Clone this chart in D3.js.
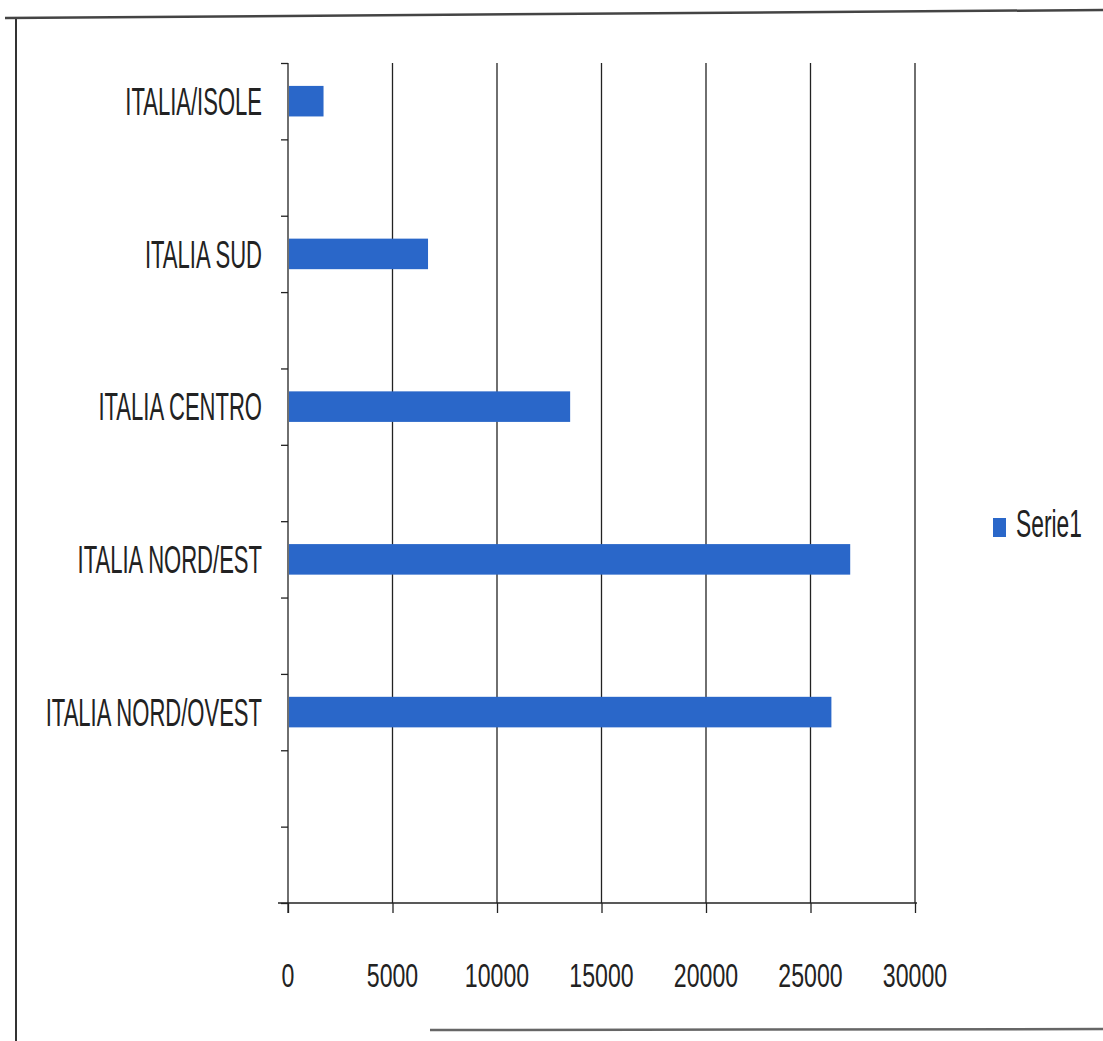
<!DOCTYPE html>
<html>
<head>
<meta charset="utf-8">
<script src="https://cdn.jsdelivr.net/npm/d3@7"></script>
<style>
  html, body { margin: 0; padding: 0; background: #ffffff; }
  svg { display: block; }
</style>
</head>
<body>
<script>
// ---- data ----
const categories = ["ITALIA/ISOLE", "ITALIA SUD", "ITALIA CENTRO", "ITALIA NORD/EST", "ITALIA NORD/OVEST"];
const values = [1700, 6700, 13500, 26900, 26000];
const xTicks = [0, 5000, 10000, 15000, 20000, 25000, 30000];
const seriesName = "Serie1";

// ---- layout ----
const W = 1103, H = 1041;
const svg = d3.select("body").append("svg").attr("width", W).attr("height", H);

const plot = { left: 288, right: 915, top: 63, bottom: 903 };

// category slots: each category followed by an empty slot, plus one trailing empty slot
const slots = [];
categories.forEach((c, i) => { slots.push("c" + i); slots.push("e" + i); });
slots.push("end");

const x = d3.scaleLinear().domain([0, 30000]).range([plot.left, plot.right]);
const y = d3.scaleBand().domain(slots).range([plot.top, plot.bottom]).padding(0);
const edge = d3.scaleLinear().domain([0, slots.length]).range([plot.top, plot.bottom]);

// frame (scanned page border)
svg.append("line").attr("x1", 16).attr("y1", 18).attr("x2", 16).attr("y2", H)
  .attr("stroke", "#333").attr("stroke-width", 2);
svg.append("line").attr("x1", 5).attr("y1", 18).attr("x2", W).attr("y2", 10)
  .attr("stroke", "#444").attr("stroke-width", 2.5);
svg.append("line").attr("x1", 430).attr("y1", 1030).attr("x2", W).attr("y2", 1029)
  .attr("stroke", "#666").attr("stroke-width", 2.5);

// vertical gridlines
svg.append("g").selectAll("line").data(xTicks.slice(1)).join("line")
  .attr("x1", d => x(d)).attr("x2", d => x(d))
  .attr("y1", plot.top).attr("y2", plot.bottom)
  .attr("stroke", "#222").attr("stroke-width", 1.3);

// bottom axis
const xAxis = svg.append("g").attr("transform", `translate(0,${plot.bottom})`)
  .call(d3.axisBottom(x).tickValues(xTicks).tickSize(10).tickFormat(""));
xAxis.select(".domain").attr("stroke", "#222").attr("stroke-width", 1.3)
  .attr("d", `M${plot.left - 10},0H${plot.right + 2}`);
xAxis.selectAll(".tick line").attr("stroke", "#222").attr("stroke-width", 1.3);

// left axis (ticks at slot edges)
const yAxis = svg.append("g").attr("transform", `translate(${plot.left},0)`)
  .call(d3.axisLeft(edge).tickValues(d3.range(slots.length + 1)).tickSize(7).tickFormat(""));
yAxis.select(".domain").attr("stroke", "#222").attr("stroke-width", 1.3)
  .attr("d", `M0,${plot.top}V${plot.bottom + 10}`);
yAxis.selectAll(".tick line").attr("stroke", "#222").attr("stroke-width", 1.3);

// bars
const barH = y.bandwidth() * 0.4;
svg.append("g").selectAll("rect").data(categories).join("rect")
  .attr("x", x(0) + 1)
  .attr("y", (d, i) => y("c" + i) + (y.bandwidth() - barH) / 2)
  .attr("width", (d, i) => x(values[i]) - x(0) - 1)
  .attr("height", barH)
  .attr("fill", "#2a67c9");

// category labels
const catFont = 38;
svg.append("g").selectAll("text").data(categories).join("text")
  .attr("transform", (d, i) => `translate(262,${y("c" + i) + y.bandwidth() / 2 + catFont * 0.36}) scale(0.58,1)`)
  .attr("text-anchor", "end")
  .attr("font-family", "'Liberation Sans', Arial, sans-serif")
  .attr("font-size", catFont)
  .attr("fill", "#222")
  .text(d => d);

// x tick labels
svg.append("g").selectAll("text").data(xTicks).join("text")
  .attr("transform", d => `translate(${x(d)},987) scale(0.68,1)`)
  .attr("text-anchor", "middle")
  .attr("font-family", "'Liberation Sans', Arial, sans-serif")
  .attr("font-size", 34)
  .attr("fill", "#222")
  .text(d => d);

// legend
const lg = svg.append("g");
lg.append("rect").attr("x", 993).attr("y", 518).attr("width", 13).attr("height", 19).attr("fill", "#2a67c9");
lg.append("text")
  .attr("transform", "translate(1016,537) scale(0.6,1)")
  .attr("font-family", "'Liberation Sans', Arial, sans-serif")
  .attr("font-size", 38)
  .attr("fill", "#222")
  .text(seriesName);
</script>
</body>
</html>
